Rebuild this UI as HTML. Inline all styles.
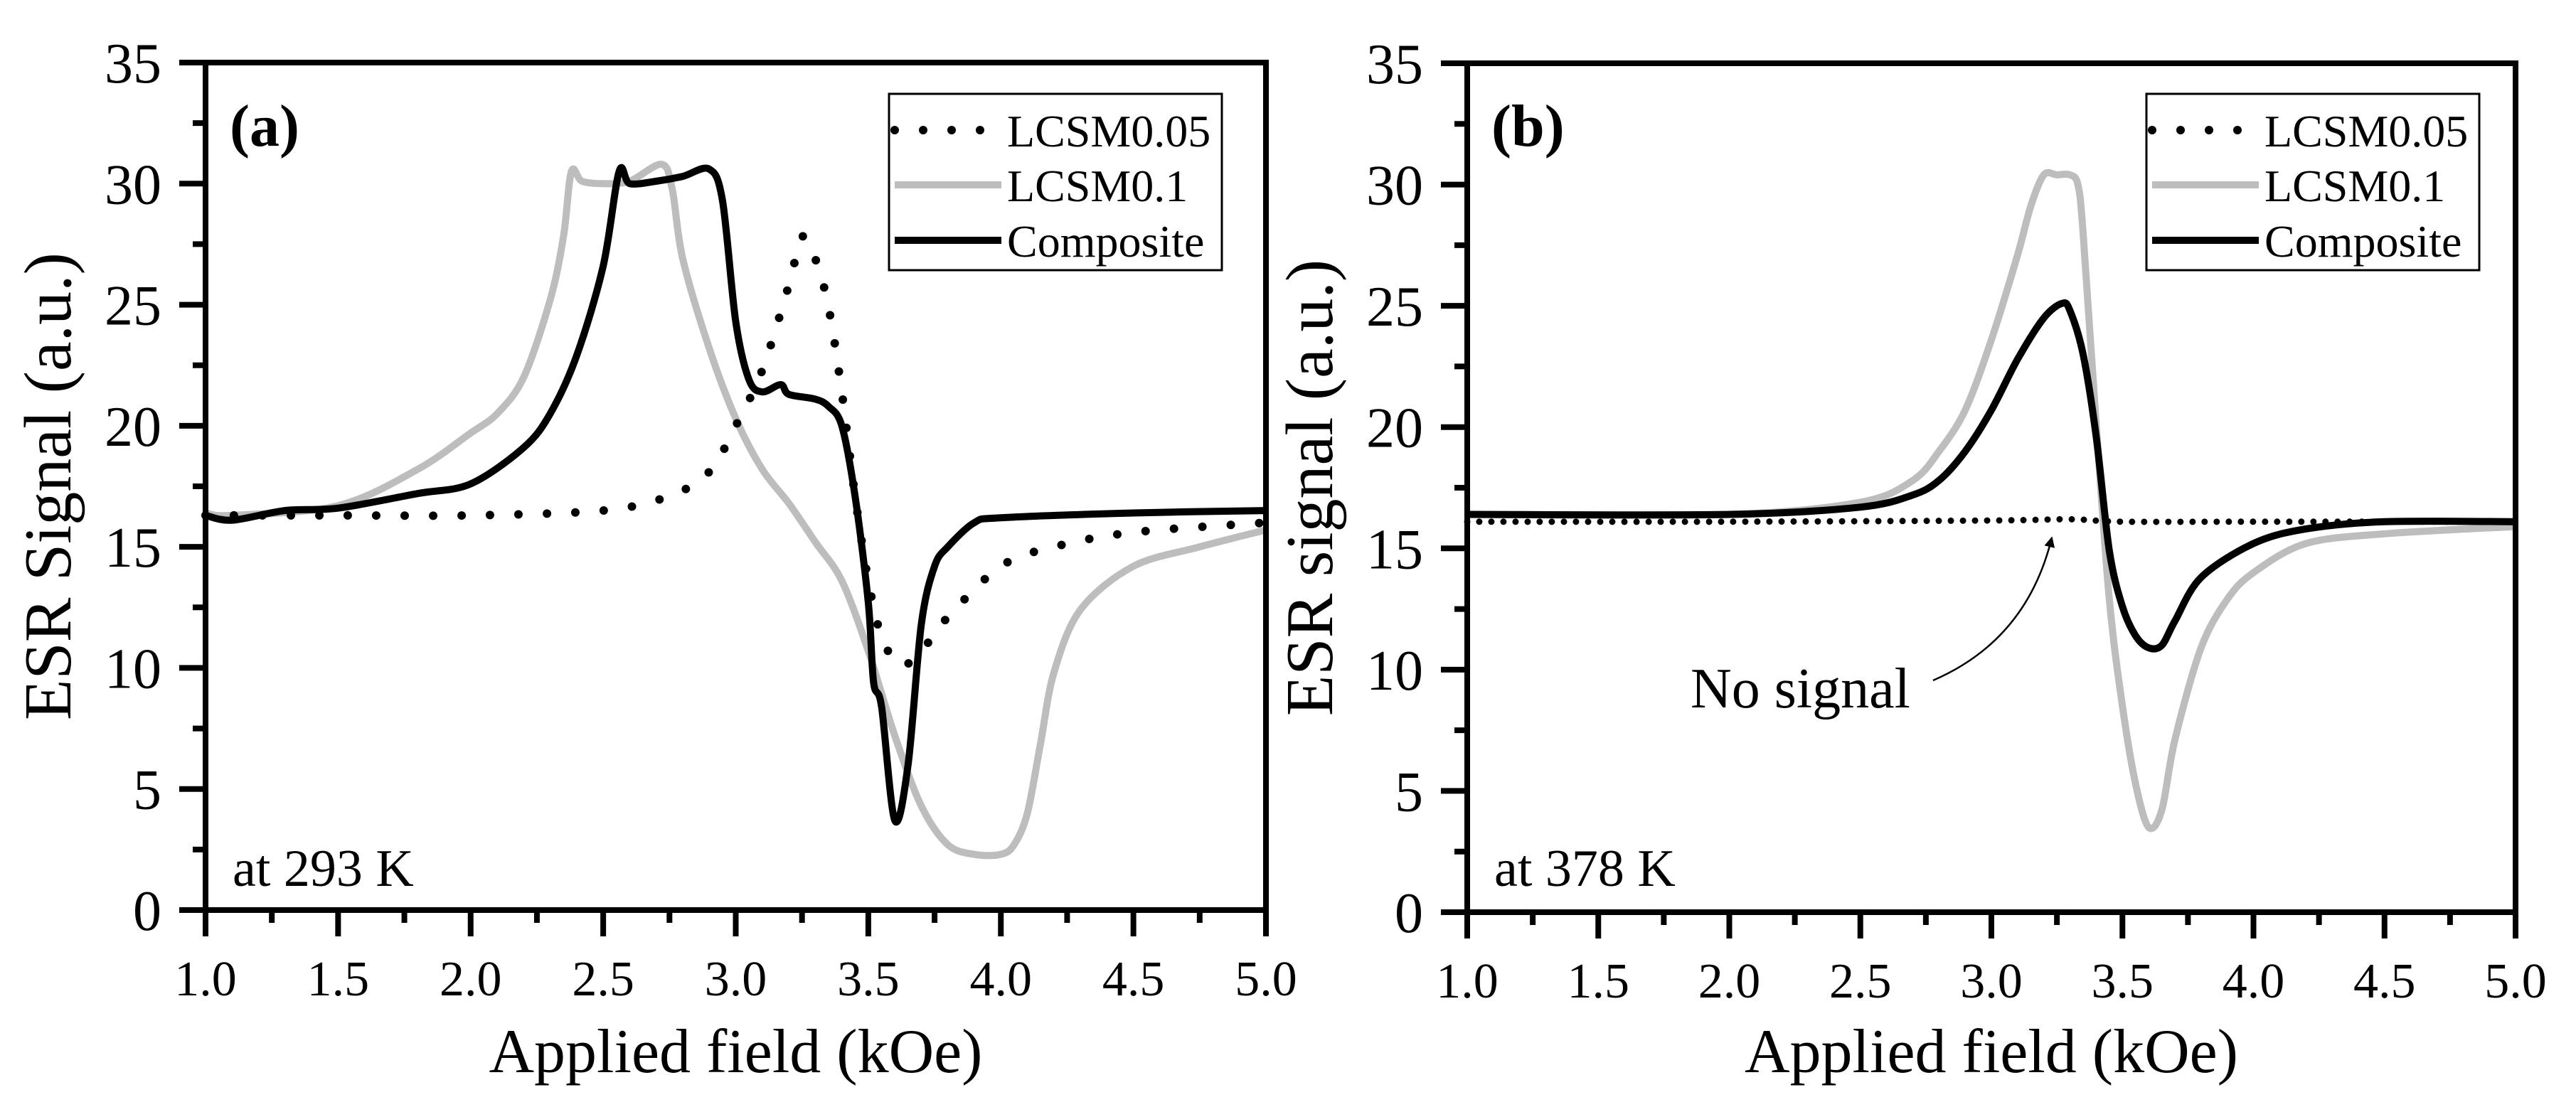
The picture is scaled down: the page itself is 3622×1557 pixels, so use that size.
<!DOCTYPE html>
<html><head><meta charset="utf-8"><style>
html,body{margin:0;padding:0;background:#fff}
svg{display:block}
text{font-family:"Liberation Serif",serif;fill:#000}
</style></head><body>
<svg id="chart" width="3622" height="1557" viewBox="0 0 3622 1557" xmlns="http://www.w3.org/2000/svg">
<defs><marker id="ah" viewBox="0 0 10 10" refX="9" refY="5" markerWidth="6" markerHeight="6" orient="auto"><path d="M0,0 L10,5 L0,10 z" fill="#000"/></marker></defs>
</svg>
<script>
// ---- data (kOe, a.u.) ----
const xTicks=[1.0,1.5,2.0,2.5,3.0,3.5,4.0,4.5,5.0];
const yTicks=[0,5,10,15,20,25,30,35];
const seriesNames=["LCSM0.05","LCSM0.1","Composite"];
// panel a
const aGreyX=[1.0,1.1,1.5,1.8,2.0,2.1,2.2,2.3,2.35,2.38,2.42,2.5,2.6,2.72,2.76,2.8,2.9,3.0,3.1,3.2,3.3,3.4,3.5,3.6,3.7,3.8,3.9,4.0,4.05,4.1,4.15,4.2,4.3,4.5,4.75,5.0];
const aGreyY=[16.4,16.3,16.7,18.2,19.7,20.5,22.0,25.2,27.8,30.5,30.1,30.0,30.1,30.8,29.8,26.9,23.2,20.3,18.2,16.8,15.2,13.6,10.7,7.2,4.3,2.7,2.3,2.3,2.7,4.0,6.9,9.8,12.4,14.2,15.0,15.7];
const aBlackX=[1.0,1.1,1.3,1.5,1.8,2.0,2.2,2.3,2.4,2.5,2.56,2.6,2.7,2.8,2.9,2.95,3.0,3.05,3.1,3.17,3.2,3.3,3.35,3.4,3.45,3.5,3.52,3.55,3.6,3.65,3.7,3.75,3.8,3.9,4.0,4.5,5.0];
const aBlackY=[16.3,16.1,16.5,16.6,17.2,17.6,19.1,20.5,22.9,26.6,30.5,30.0,30.1,30.3,30.6,29.3,24.3,21.9,21.4,21.7,21.3,21.1,20.8,20.0,17.1,12.7,9.4,8.4,3.7,6.0,11.8,14.2,15.0,16.0,16.2,16.4,16.5];
const aDotX=[1.0,1.5,2.0,2.5,2.75,2.9,3.0,3.1,3.2,3.25,3.3,3.35,3.4,3.45,3.5,3.55,3.62,3.7,3.8,4.0,4.2,4.5,5.0];
const aDotY=[16.3,16.3,16.3,16.5,17.1,18.1,20.0,22.3,25.8,27.8,26.9,24.9,21.4,17.1,13.6,11.3,10.1,10.7,12.1,14.2,15.0,15.6,16.0];
// panel b
const bGreyX=[1.0,2.0,2.5,2.7,2.8,2.9,3.0,3.1,3.15,3.2,3.25,3.3,3.33,3.35,3.4,3.45,3.5,3.55,3.6,3.65,3.7,3.8,3.9,4.0,4.2,4.5,5.0];
const bGreyY=[16.4,16.4,16.9,17.8,19.0,20.7,23.6,27.1,29.1,30.4,30.4,30.4,30.0,28.0,20.1,12.9,8.5,5.3,3.5,4.2,7.1,10.9,12.9,14.0,15.2,15.6,15.9];
const bBlackX=[1.0,2.0,2.5,2.7,2.8,2.9,3.0,3.1,3.2,3.27,3.3,3.35,3.4,3.45,3.5,3.55,3.6,3.65,3.7,3.8,4.0,4.2,4.5,5.0];
const bBlackY=[16.4,16.4,16.7,17.2,17.8,19.0,20.7,22.8,24.5,25.1,24.8,23.0,19.6,14.9,12.6,11.4,10.9,11.0,12.0,13.8,15.2,15.8,16.1,16.1];
const bDotX=[1.0,2.0,3.0,3.3,3.5,4.0,5.0];
const bDotY=[16.1,16.1,16.15,16.2,16.1,16.1,16.1];

const NS="http://www.w3.org/2000/svg";
const svg=document.getElementById('chart');
function el(tag,attrs,parent){const e=document.createElementNS(NS,tag);for(const k in attrs)e.setAttribute(k,attrs[k]);(parent||svg).appendChild(e);return e;}
function smooth(pts){let d="M"+pts[0][0]+","+pts[0][1];for(let i=0;i<pts.length-1;i++){const p0=pts[Math.max(0,i-1)],p1=pts[i],p2=pts[i+1],p3=pts[Math.min(pts.length-1,i+2)];const t=0.16;d+=" C"+(p1[0]+(p2[0]-p0[0])*t)+","+(p1[1]+(p2[1]-p0[1])*t)+" "+(p2[0]-(p3[0]-p1[0])*t)+","+(p2[1]-(p3[1]-p1[1])*t)+" "+p2[0]+","+p2[1];}return d;}

function panel(cfg){
  const g=el('g',{});
  
  
  const L=cfg.L,R=cfg.R,T=cfg.T,B=cfg.B;
  const sx=v=>L+(v-1)/(5-1)*(R-L);
  const sy=v=>B-v/35*(B-T);
  const mk=(xs,ys,style,name)=>{const p=el('path',Object.assign({d:smooth(xs.map((x,i)=>[sx(x),sy(ys[i])])),fill:'none'},style),g);};
  mk(cfg.grey[0],cfg.grey[1],{stroke:'#bdbdbd','stroke-width':10,'stroke-linejoin':'round'},'series-lcsm0.1');
  mk(cfg.dot[0],cfg.dot[1],{stroke:'#000','stroke-width':cfg.dotW,'stroke-linecap':'round','stroke-dasharray':'0 '+cfg.dotGap},'series-lcsm0.05');
  mk(cfg.black[0],cfg.black[1],{stroke:'#000','stroke-width':10,'stroke-linejoin':'round'},'series-composite');
  const fr=el('rect',{x:L,y:T,width:R-L,height:B-T,fill:'none',stroke:'#000','stroke-width':8},g);
  
  for(let v=1;v<=5.0001;v+=0.25){const X=sx(v);const major=Math.abs(v*2-Math.round(v*2))<1e-6;el('line',{x1:X,x2:X,y1:B,y2:B+(major?37:18),stroke:'#000','stroke-width':8},g);}
  xTicks.forEach(v=>{const t=el('text',{x:sx(v),y:B+120,'font-size':70,'text-anchor':'middle'},g);t.textContent=v.toFixed(1);});
  for(let v=0;v<=35;v+=2.5){const Y=sy(v);const major=v%5===0;el('line',{x1:L,x2:L-(major?37:18),y1:Y,y2:Y,stroke:'#000','stroke-width':8},g);}
  yTicks.forEach(v=>{const t=el('text',{x:L-62,y:sy(v)+28,'font-size':80,'text-anchor':'end'},g);t.textContent=v;});
  const xt=el('text',{x:(L+R)/2,y:1508,'font-size':88,'text-anchor':'middle'},g);xt.textContent='Applied field (kOe)';
  
  const yt=el('text',{x:0,y:0,'font-size':94,'text-anchor':'middle',transform:'translate('+(L-190)+','+((T+B)/2)+') rotate(-90)'},g);yt.textContent=cfg.ytitle;
  
  const pl=el('text',{x:L+34,y:205,'font-size':84,'font-weight':'bold'},g);pl.textContent=cfg.label;
  
  const tl=el('text',{x:L+38,y:1246,'font-size':74},g);tl.textContent=cfg.temp;
  
  const lg=el('g',{},g);
  el('rect',{x:cfg.lx,y:132,width:468,height:248,fill:'#fff',stroke:'#000','stroke-width':3},lg);
  const styles=[{stroke:'#000','stroke-width':12,'stroke-linecap':'round','stroke-dasharray':'0 40'},{stroke:'#bdbdbd','stroke-width':10},{stroke:'#000','stroke-width':10}];
  [183,260,338].forEach((yy,i)=>{el('line',Object.assign({x1:cfg.lx+8,x2:cfg.lx+158,y1:yy,y2:yy},styles[i]),lg);
    const t=el('text',{x:cfg.lx+166,y:yy+23,'font-size':64},lg);t.textContent=seriesNames[i];});
  return g;
}
panel({name:'panel-a',L:289,R:1780,T:88,B:1280,grey:[aGreyX,aGreyY],black:[aBlackX,aBlackY],dot:[aDotX,aDotY],dotW:12,dotGap:40,ytitle:'ESR Signal (a.u.)',label:'(a)',temp:'at 293 K',lx:1250});
const pb=panel({name:'panel-b',L:2063,R:3537,T:89,B:1283,grey:[bGreyX,bGreyY],black:[bBlackX,bBlackY],dot:[bDotX,bDotY],dotW:9,dotGap:17,ytitle:'ESR signal (a.u.)',label:'(b)',temp:'at 378 K',lx:3018});
const ns=el('text',{x:2377,y:995,'font-size':80},pb);ns.textContent='No signal';

const ar=el('path',{d:'M2718,957 Q2850,900 2885,756',fill:'none',stroke:'#000','stroke-width':2.5,'marker-end':'url(#ah)'},pb);

</script>
</body></html>
